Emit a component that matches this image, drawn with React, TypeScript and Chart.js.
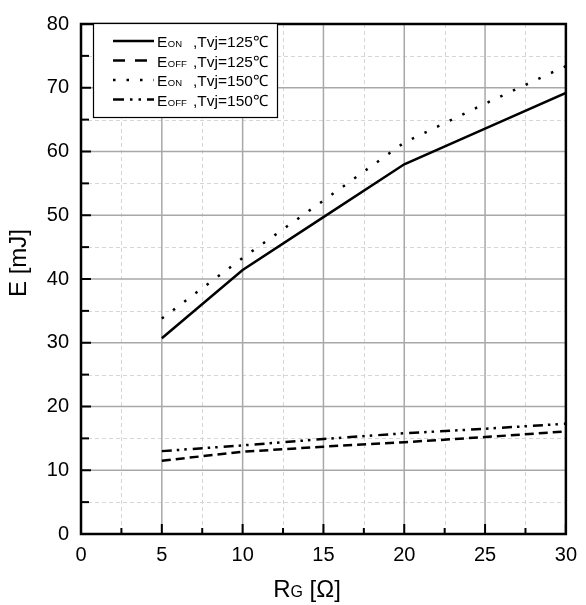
import React, { useEffect, useRef } from "react";
import { Chart, registerables } from "chart.js";

Chart.register(...registerables);

// Gate resistance R_G [Ω]
const rgValues = [5, 10, 15, 20, 25, 30];
// Switching energies [mJ]
const eOn125 = [30.7, 41.4, 49.7, 58.0, 63.6, 69.2];
const eOff125 = [11.5, 12.9, 13.7, 14.4, 15.2, 16.1];
const eOn150 = [33.8, 43.3, 52.3, 61.4, 67.5, 73.4];
const eOff150 = [13.0, 13.9, 14.9, 15.8, 16.5, 17.3];

const legendMain = ["E", "E", "E", "E"];
const legendSub = ["ON", "OFF", "ON", "OFF"];
const legendTail = [",Tvj=125℃", ",Tvj=125℃", ",Tvj=150℃", ",Tvj=150℃"];

const FONT = "'Liberation Sans', Arial, sans-serif";

const plotDashes: number[][] = [[], [9, 5], [2.5, 11.5], [10, 5, 2.5, 5, 2.5, 6]];
const legendDashes: number[][] = [[], [12, 10], [2.5, 11], [11, 6, 2.5, 6, 2.5, 6]];

const toPoints = (ys: number[]) => rgValues.map((x, i) => ({ x, y: ys[i] }));

const decorPlugin = {
  id: "decor",
  beforeDatasetsDraw(chart: any) {
    const { ctx, chartArea: a, scales } = chart;
    const xs = scales.x;
    const ys = scales.y;
    ctx.save();
    // minor grid
    ctx.strokeStyle = "#d6d6d6";
    ctx.lineWidth = 1;
    ctx.setLineDash([4, 3]);
    for (let v = 2.5; v < 30; v += 5) {
      const px = Math.round(xs.getPixelForValue(v)) + 0.5;
      ctx.beginPath();
      ctx.moveTo(px, a.top);
      ctx.lineTo(px, a.bottom);
      ctx.stroke();
    }
    for (let v = 5; v < 80; v += 10) {
      const py = Math.round(ys.getPixelForValue(v)) + 0.5;
      ctx.beginPath();
      ctx.moveTo(a.left, py);
      ctx.lineTo(a.right, py);
      ctx.stroke();
    }
    // major grid
    ctx.setLineDash([]);
    ctx.strokeStyle = "#a8a8a8";
    ctx.lineWidth = 1.5;
    for (let v = 5; v < 30; v += 5) {
      const px = xs.getPixelForValue(v);
      ctx.beginPath();
      ctx.moveTo(px, a.top);
      ctx.lineTo(px, a.bottom);
      ctx.stroke();
    }
    for (let v = 10; v < 80; v += 10) {
      const py = ys.getPixelForValue(v);
      ctx.beginPath();
      ctx.moveTo(a.left, py);
      ctx.lineTo(a.right, py);
      ctx.stroke();
    }
    ctx.restore();
  },
  afterDatasetsDraw(chart: any) {
    const { ctx, chartArea: a, scales } = chart;
    const xs = scales.x;
    const ys = scales.y;
    ctx.save();
    ctx.setLineDash([]);
    ctx.strokeStyle = "#000";
    // ticks pointing inward
    ctx.lineWidth = 2;
    for (let v = 0; v <= 30; v += 2.5) {
      const px = xs.getPixelForValue(v);
      const len = v % 5 === 0 ? 10 : 6;
      ctx.beginPath();
      ctx.moveTo(px, a.bottom);
      ctx.lineTo(px, a.bottom - len);
      ctx.stroke();
    }
    for (let v = 0; v <= 80; v += 5) {
      const py = ys.getPixelForValue(v);
      const len = v % 10 === 0 ? 10 : 8;
      ctx.beginPath();
      ctx.moveTo(a.left, py);
      ctx.lineTo(a.left + len, py);
      ctx.stroke();
    }
    // frame
    ctx.lineWidth = 2.5;
    ctx.strokeRect(a.left, a.top, a.right - a.left, a.bottom - a.top);

    // legend
    const bx = 93, by = 23, bw = 184, bh = 94;
    ctx.fillStyle = "#fff";
    ctx.fillRect(bx, by, bw, bh);
    ctx.lineWidth = 1.2;
    ctx.strokeStyle = "#000";
    ctx.strokeRect(bx + 0.5, by + 0.5, bw, bh);
    const rowY = [41, 60.5, 80, 99.5];
    for (let i = 0; i < 4; i++) {
      const y = rowY[i];
      ctx.setLineDash(legendDashes[i]);
      ctx.lineWidth = 2.5;
      ctx.beginPath();
      ctx.moveTo(113, y);
      ctx.lineTo(154, y);
      ctx.stroke();
      ctx.setLineDash([]);
      ctx.fillStyle = "#000";
      ctx.textBaseline = "alphabetic";
      ctx.textAlign = "left";
      const base = y + 6;
      ctx.font = `15.5px ${FONT}`;
      ctx.fillText(legendMain[i], 157, base);
      const w = ctx.measureText(legendMain[i]).width;
      ctx.font = `9.5px ${FONT}`;
      ctx.fillText(legendSub[i], 157 + w + 0.5, base);
      ctx.font = `15.5px ${FONT}`;
      ctx.fillText(legendTail[i], 193, base);
    }

    // axis titles
    ctx.fillStyle = "#000";
    ctx.textBaseline = "alphabetic";
    ctx.textAlign = "left";
    ctx.font = `24px ${FONT}`;
    const rW = ctx.measureText("R").width;
    const restW = ctx.measureText(" [Ω]").width;
    ctx.font = `16px ${FONT}`;
    const gW = ctx.measureText("G").width;
    const total = rW + gW + restW;
    let tx = 307 - total / 2;
    const tb = 597;
    ctx.font = `24px ${FONT}`;
    ctx.fillText("R", tx, tb);
    tx += rW;
    ctx.font = `16px ${FONT}`;
    ctx.fillText("G", tx, tb);
    tx += gW;
    ctx.font = `24px ${FONT}`;
    ctx.fillText(" [Ω]", tx, tb);

    ctx.translate(19, 263);
    ctx.rotate(-Math.PI / 2);
    ctx.textAlign = "center";
    ctx.textBaseline = "middle";
    ctx.font = `24px ${FONT}`;
    ctx.fillText("E [mJ]", 0, 0);
    ctx.restore();
  },
};

export default function App() {
  const canvasRef = useRef<HTMLCanvasElement | null>(null);

  useEffect(() => {
    document.body.style.margin = "0";
    const canvas = canvasRef.current;
    if (!canvas) return;
    const series = [eOn125, eOff125, eOn150, eOff150];
    const labels = ["EON ,Tvj=125℃", "EOFF ,Tvj=125℃", "EON ,Tvj=150℃", "EOFF ,Tvj=150℃"];
    const chart = new Chart(canvas, {
      type: "line",
      data: {
        datasets: series.map((s, i) => ({
          label: labels[i],
          data: toPoints(s),
          borderColor: "#000",
          backgroundColor: "#000",
          borderWidth: 2.5,
          borderDash: plotDashes[i],
          borderCapStyle: "butt",
          pointRadius: 0,
          tension: 0,
          fill: false,
        })),
      },
      options: {
        animation: false,
        responsive: true,
        maintainAspectRatio: false,
        layout: { padding: { top: 15, right: 14, left: 0, bottom: 0 } },
        plugins: {
          legend: { display: false },
          tooltip: { enabled: false },
        },
        scales: {
          x: {
            type: "linear",
            min: 0,
            max: 30,
            ticks: {
              stepSize: 5,
              color: "#000",
              font: { family: FONT, size: 20 },
              padding: 9,
            },
            grid: { display: false, drawTicks: false },
            border: { display: false },
            afterFit: (s: any) => {
              s.height = 71;
            },
          },
          y: {
            type: "linear",
            min: 0,
            max: 80,
            ticks: {
              stepSize: 10,
              color: "#000",
              font: { family: FONT, size: 20 },
              padding: 12,
            },
            grid: { display: false, drawTicks: false },
            border: { display: false },
            afterFit: (s: any) => {
              s.width = 81;
            },
          },
        },
      },
      plugins: [decorPlugin],
    } as any);
    return () => chart.destroy();
  }, []);

  return (
    <div style={{ width: 586, height: 605, position: "relative", background: "#fff" }}>
      <canvas ref={canvasRef} style={{ display: "block" }} />
    </div>
  );
}
